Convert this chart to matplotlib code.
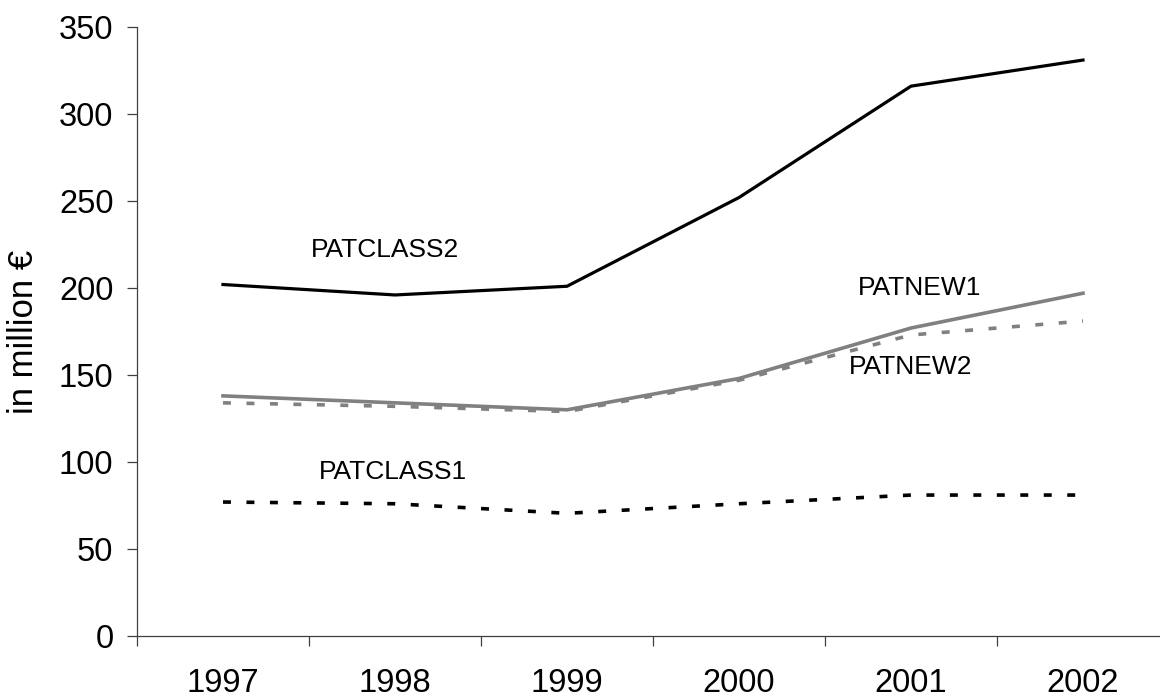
import matplotlib
matplotlib.use("Agg")
import matplotlib.pyplot as plt
import numpy as np

plt.rcParams['font.family'] = ['Liberation Sans', 'DejaVu Sans']

years = ['1997', '1998', '1999', '2000', '2001', '2002']
patclass2 = [202, 196, 201, 252, 316, 331]
patnew1 = [138, 134, 130, 148, 177, 197]
patnew2 = [134, 132, 129, 147, 173, 181]
patclass1 = [77, 76, 70.5, 76, 81, 81]
yticks = [0, 50, 100, 150, 200, 250, 300, 350]

fig = plt.figure(figsize=(11.6, 7.0), dpi=100)
ax = fig.add_axes([137/1160, 64/700, 1032/1160, 609/700])

x = np.arange(len(years))
ax.plot(x, patclass2, color='black', lw=2.3)
ax.plot(x, patnew1, color='#808080', lw=2.6)
ax.plot(x, patnew2, color='#808080', lw=2.6, dashes=(2.2, 4.3))
ax.plot(x, patclass1, color='black', lw=2.6, dashes=(2.2, 4.3))

ax.text(0.94, 222, 'PATCLASS2', ha='center', va='center', fontsize=19)
ax.text(4.05, 200, 'PATNEW1', ha='center', va='center', fontsize=19)
ax.text(4.0, 154.5, 'PATNEW2', ha='center', va='center', fontsize=19)
ax.text(0.99, 94, 'PATCLASS1', ha='center', va='center', fontsize=19)

ax.set_xlim(-0.5, len(years) - 0.5)
ax.set_ylim(0, 350)
ax.set_yticks(yticks)
ax.set_yticklabels([str(v) for v in yticks])
ax.set_xticks(x)
ax.set_xticklabels(years)
ax.set_xticks(np.arange(-0.5, len(years), 1.0), minor=True)
ax.tick_params(axis='x', which='major', length=0, pad=23, labelsize=23.5)
ax.tick_params(axis='x', which='minor', length=7, width=0.9, color='#404040', direction='out')
ax.tick_params(axis='y', length=7, width=0.9, color='#404040', pad=10, labelsize=23.5)
ax.set_ylabel('in million €', fontsize=25)
ax.yaxis.set_label_coords(-0.094, 0.5)

for s in ['top', 'right']:
    ax.spines[s].set_visible(False)
for s in ['left', 'bottom']:
    ax.spines[s].set_color('#404040')
    ax.spines[s].set_linewidth(0.9)

fig.savefig('out.png', dpi=100)
